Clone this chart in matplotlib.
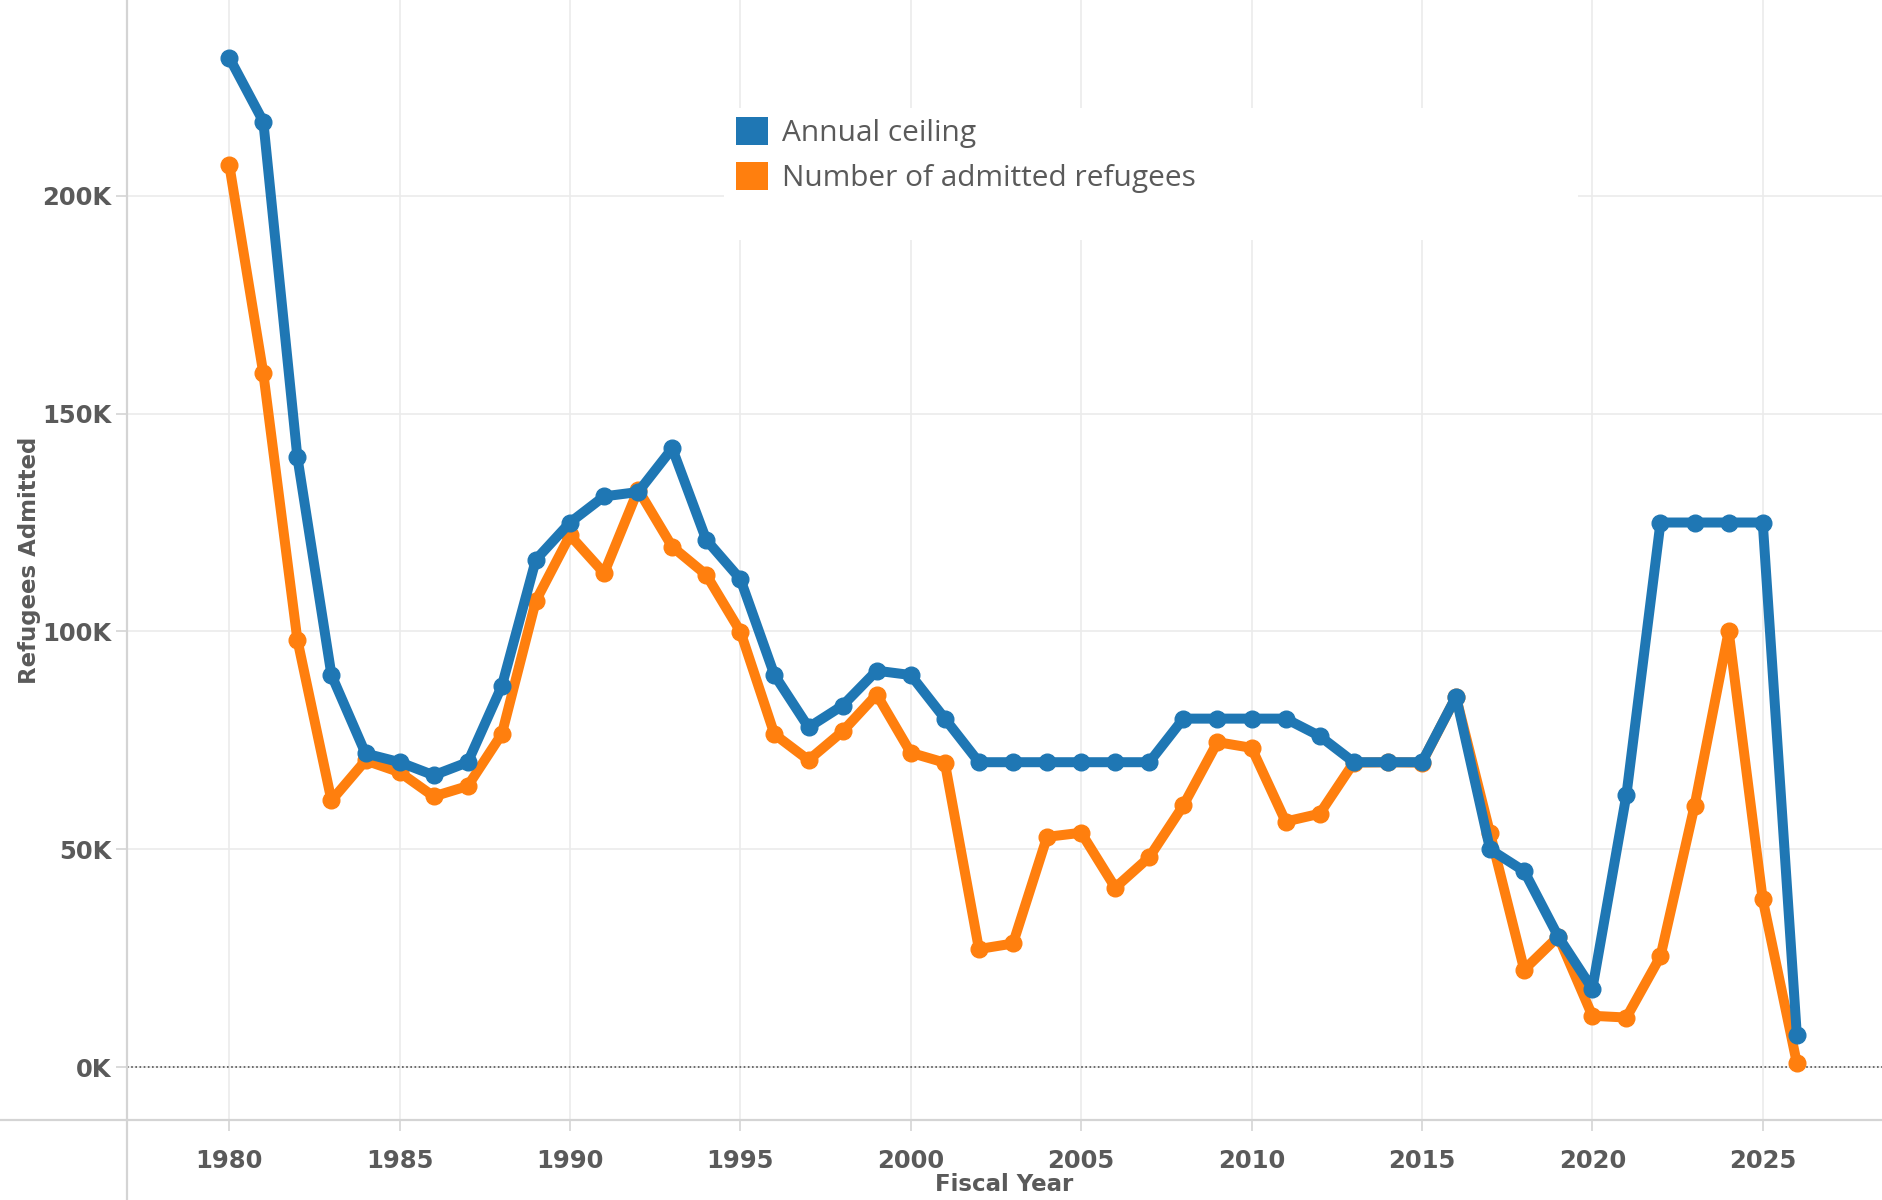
import numpy as np
import matplotlib
matplotlib.use("Agg")
import matplotlib.pyplot as plt
from matplotlib.patches import Patch, Rectangle
from matplotlib.lines import Line2D

years = list(range(1980, 2027))

# refugee ceiling per fiscal year
ceiling = [231700, 217000, 140000, 90000, 72000, 70000, 67000, 70000, 87500, 116500,
           125000, 131000, 132000, 142000, 121000, 112000, 90000, 78000, 83000, 91000,
           90000, 80000, 70000, 70000, 70000, 70000, 70000, 70000, 80000, 80000,
           80000, 80000, 76000, 70000, 70000, 70000, 85000, 50000, 45000, 30000,
           18000, 62500, 125000, 125000, 125000, 125000, 7500]

# refugees actually admitted
admitted = [207116, 159252, 98096, 61218, 70393, 67704, 62146, 64528, 76483, 107070,
            122066, 113389, 132531, 119448, 112981, 99974, 76403, 70488, 77080, 85525,
            72165, 69886, 27131, 28403, 52873, 53813, 41223, 48218, 60107, 74602,
            73293, 56384, 58179, 69909, 69975, 69920, 84989, 53691, 22405, 30000,
            11814, 11411, 25465, 60014, 100034, 38500, 1000]

yticks = [0, 50000, 100000, 150000, 200000]
ytick_labels = ['0K', '50K', '100K', '150K', '200K']
xticks = [1980, 1985, 1990, 1995, 2000, 2005, 2010, 2015, 2020, 2025]

blue = '#1f77b4'
orange = '#ff7f0e'
grid_c = '#ebebeb'
axis_c = '#d4d4d4'
text_c = '#5a5a5a'

W, H = 1882, 1200
fig = plt.figure(figsize=(W / 100, H / 100), dpi=100)
ax = fig.add_axes([127 / W, 80 / H, 1 - 127 / W, 1 - 80 / H])

ax.plot(years, admitted, color=orange, lw=7.2, marker='o', ms=12, zorder=3,
        solid_joinstyle='round', solid_capstyle='round')
ax.plot(years, ceiling, color=blue, lw=7.2, marker='o', ms=12, zorder=4,
        solid_joinstyle='round', solid_capstyle='round')

ax.axhline(0, color='#555555', lw=1.2, ls=(0, (1, 1.5)), zorder=2)

ax.set_xlim(1977, 2028.5)
ax.set_ylim(-12100, 244900)
ax.set_xticks(xticks)
ax.set_yticks(yticks)
ax.set_yticklabels(ytick_labels)
ax.grid(True, color=grid_c, lw=1.2)
ax.set_axisbelow(True)
for s in ax.spines.values():
    s.set_visible(False)
ax.tick_params(axis='both', colors=axis_c, length=8, width=1.2,
               labelcolor=text_c, labelsize=17.5)
ax.tick_params(axis='x', pad=13)
ax.tick_params(axis='y', pad=3)
for lab in ax.get_xticklabels() + ax.get_yticklabels():
    lab.set_fontweight('bold')

ax.set_xlabel('Fiscal Year', fontsize=16.5, fontweight='bold', color=text_c, labelpad=0)
ax.set_ylabel('Refugees Admitted', fontsize=16.5, fontweight='bold', color=text_c, labelpad=1)

# axis lines running to the figure edges
fig.add_artist(Line2D([0, 1], [80 / H, 80 / H], transform=fig.transFigure, color=axis_c, lw=1.6))
fig.add_artist(Line2D([127 / W, 127 / W], [0, 1], transform=fig.transFigure, color=axis_c, lw=1.6))

# white box behind legend
ax.add_patch(Rectangle((724 / W, 1 - 240 / H), (1578 - 724) / W, 132 / H,
                       transform=fig.transFigure, facecolor='white', edgecolor='none',
                       zorder=1.5, clip_on=False))

handles = [Patch(facecolor=blue, edgecolor='none', label='Annual ceiling'),
           Patch(facecolor=orange, edgecolor='none', label='Number of admitted refugees')]
leg = ax.legend(handles=handles, loc='upper left', bbox_to_anchor=(721 / W, 1 - 102 / H),
                bbox_transform=fig.transFigure, frameon=False, borderpad=0,
                handlelength=1.07, handleheight=1.07, handletextpad=0.48,
                labelspacing=0.45, prop={'family': 'Open Sans', 'size': 21.5})
for t in leg.get_texts():
    t.set_color(text_c)

fig.savefig('out.png', dpi=100)
